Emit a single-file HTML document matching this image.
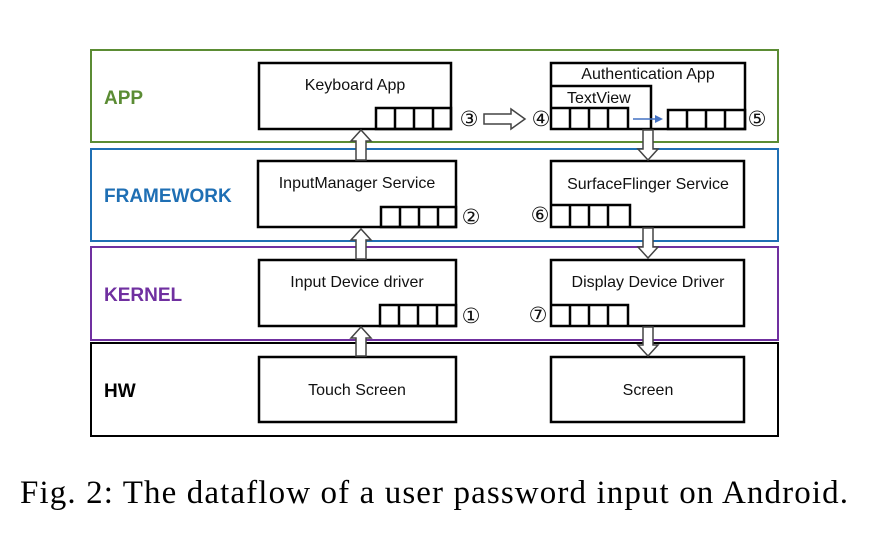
<!DOCTYPE html>
<html><head><meta charset="utf-8"><style>
html,body{margin:0;padding:0;background:#fff;}
svg{display:block;}
.t{font-family:"Liberation Sans",sans-serif;font-size:16px;fill:#111;}
.l{font-family:"Liberation Sans",sans-serif;font-size:19px;font-weight:bold;}
.c{font-family:"DejaVu Sans",sans-serif;font-size:21px;fill:#111;}
.b{fill:#fff;stroke:#000;stroke-width:2.5;}
.q{fill:none;stroke:#000;stroke-width:2.5;}
.a{fill:#fff;stroke:#444;stroke-width:1.5;}
</style></head><body>
<svg width="879" height="548" viewBox="0 0 879 548" xmlns="http://www.w3.org/2000/svg">
<rect x="91" y="50" width="687" height="92" fill="none" stroke="#5b8c34" stroke-width="2"/>
<rect x="91" y="149" width="687" height="92" fill="none" stroke="#1f6fb4" stroke-width="2"/>
<rect x="91" y="247" width="687" height="93" fill="none" stroke="#7030a0" stroke-width="2"/>
<rect x="91" y="343" width="687" height="93" fill="none" stroke="#000" stroke-width="2"/>
<text class="l" x="104" y="104" fill="#5b8c34">APP</text>
<text class="l" x="104" y="202" fill="#1f6fb4">FRAMEWORK</text>
<text class="l" x="104" y="301" fill="#7030a0">KERNEL</text>
<text class="l" x="104" y="397" fill="#000">HW</text>

<!-- Keyboard App -->
<rect class="b" x="259" y="63" width="192" height="66"/>
<text class="t" x="355" y="90" text-anchor="middle">Keyboard App</text>
<g class="q"><rect x="376" y="108" width="75" height="21"/><path d="M395 108V129M414 108V129M433 108V129"/></g>

<!-- Auth App -->
<rect class="b" x="551" y="63" width="194" height="66"/>
<text class="t" x="648" y="79" text-anchor="middle">Authentication App</text>
<path d="M551 86H651V129" fill="none" stroke="#000" stroke-width="2.5"/>
<text class="t" x="567" y="103">TextView</text>
<g class="q"><path d="M551 108H628V129M570 108V129M589 108V129M608 108V129"/></g>
<g class="q"><rect x="668" y="110" width="77" height="19"/><path d="M687 110V129M706 110V129M725 110V129"/></g>
<line x1="633" y1="119" x2="656" y2="119" stroke="#4472c4" stroke-width="1.5"/>
<polygon points="655,115 663,119 655,123" fill="#4472c4"/>

<!-- InputManager -->
<rect class="b" x="258" y="161" width="198" height="66"/>
<text class="t" x="357" y="188" text-anchor="middle">InputManager Service</text>
<g class="q"><rect x="381" y="207" width="75" height="20"/><path d="M400 207V227M419 207V227M438 207V227"/></g>

<!-- SurfaceFlinger -->
<rect class="b" x="551" y="161" width="193" height="66"/>
<text class="t" x="648" y="189" text-anchor="middle">SurfaceFlinger Service</text>
<g class="q"><path d="M551 205H630V227M570 205V227M589 205V227M608 205V227"/></g>

<!-- Input driver -->
<rect class="b" x="259" y="260" width="197" height="66"/>
<text class="t" x="357" y="287" text-anchor="middle">Input Device driver</text>
<g class="q"><rect x="380" y="305" width="76" height="21"/><path d="M399 305V326M418 305V326M437 305V326"/></g>

<!-- Display driver -->
<rect class="b" x="551" y="260" width="193" height="66"/>
<text class="t" x="648" y="287" text-anchor="middle">Display Device Driver</text>
<g class="q"><path d="M551 305H628V326M570 305V326M589 305V326M608 305V326"/></g>

<rect class="b" x="259" y="357" width="197" height="65"/>
<text class="t" x="357" y="395" text-anchor="middle">Touch Screen</text>
<rect class="b" x="551" y="357" width="193" height="65"/>
<text class="t" x="648" y="395" text-anchor="middle">Screen</text>

<!-- arrows -->
<g class="a">
<polygon points="356,160 356,141 351,141 361,130 371,141 366,141 366,160"/>
<polygon points="356,259 356,240 351,240 361,229 371,240 366,240 366,259"/>
<polygon points="356,356 356,338 351,338 361,327 371,338 366,338 366,356"/>
<polygon points="643,130 643,149 638,149 648,160 658,149 653,149 653,130"/>
<polygon points="643,228 643,247 638,247 648,258 658,247 653,247 653,228"/>
<polygon points="643,327 643,345 638,345 648,356 658,345 653,345 653,327"/>
<polygon points="484,114 511,114 511,109 525,119 511,129 511,124 484,124"/>
</g>

<text class="c" x="469" y="126" text-anchor="middle">③</text>
<text class="c" x="541" y="126" text-anchor="middle">④</text>
<text class="c" x="757" y="126" text-anchor="middle">⑤</text>
<text class="c" x="471" y="224" text-anchor="middle">②</text>
<text class="c" x="540" y="222" text-anchor="middle">⑥</text>
<text class="c" x="471" y="323" text-anchor="middle">①</text>
<text class="c" x="538" y="322" text-anchor="middle">⑦</text>

<text x="434" y="503" text-anchor="middle" font-family="'Liberation Serif',serif" font-size="33" fill="#000" textLength="828" lengthAdjust="spacing">Fig. 2: The dataflow of a user password input on Android.</text>
</svg>
</body></html>
